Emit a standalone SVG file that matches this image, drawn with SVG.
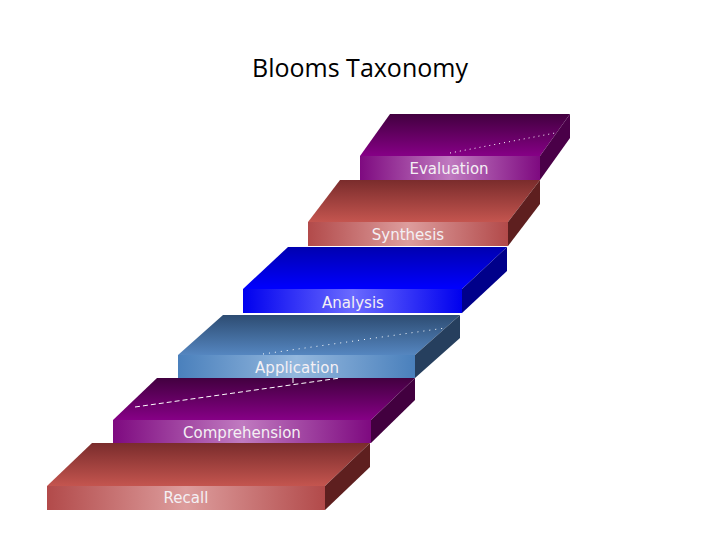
<svg xmlns="http://www.w3.org/2000/svg" width="720" height="540" viewBox="0 0 720 540">
<defs>
<linearGradient id="rf" x1="0" x2="1" y1="0" y2="0"><stop offset="0" stop-color="#b24a4a"/><stop offset="0.5" stop-color="#dd9d9d"/><stop offset="1" stop-color="#b24a4a"/></linearGradient>
<linearGradient id="rt" x1="0" x2="0" y1="0" y2="1"><stop offset="0" stop-color="#7a2c2c"/><stop offset="1" stop-color="#c4554f"/></linearGradient>
<linearGradient id="pf" x1="0" x2="1" y1="0" y2="0"><stop offset="0" stop-color="#7e0a80"/><stop offset="0.5" stop-color="#c07ac0"/><stop offset="1" stop-color="#7e0a80"/></linearGradient>
<linearGradient id="pt" x1="0" x2="0" y1="0" y2="1"><stop offset="0" stop-color="#42003f"/><stop offset="1" stop-color="#860086"/></linearGradient>
<linearGradient id="af" x1="0" x2="1" y1="0" y2="0"><stop offset="0" stop-color="#4a80bc"/><stop offset="0.5" stop-color="#94b8de"/><stop offset="1" stop-color="#4a80bc"/></linearGradient>
<linearGradient id="at" x1="0" x2="0" y1="0" y2="1"><stop offset="0" stop-color="#2d4c72"/><stop offset="1" stop-color="#5586c0"/></linearGradient>
<linearGradient id="bf" x1="0" x2="1" y1="0" y2="0"><stop offset="0" stop-color="#0000ee"/><stop offset="0.5" stop-color="#6a6aff"/><stop offset="1" stop-color="#0000ee"/></linearGradient>
<linearGradient id="bt" x1="0" x2="0" y1="0" y2="1"><stop offset="0" stop-color="#0000b0"/><stop offset="1" stop-color="#0000ff"/></linearGradient>
<style>
.side{opacity:1}
.lbl{font-family:"DejaVu Sans",sans-serif;font-size:15px;fill:#f4f0f4;text-anchor:middle}
</style>
</defs>
<text x="360" y="77" font-family="'Open Sans','Liberation Sans',sans-serif" font-size="25" text-anchor="middle" fill="#000">Blooms Taxonomy</text>

<g id="evaluation">
<polygon points="360,156 540,156 570,114 390,114" fill="url(#pt)"/>
<polygon points="540,156 570,114 570,138 540,180" fill="#4a0048"/>
<rect x="360" y="156" width="180" height="24" fill="url(#pf)"/>
<line x1="450" y1="153" x2="555" y2="133" stroke="#fff" stroke-width="1" stroke-dasharray="1,4"/>
<text class="lbl" x="449" y="174">Evaluation</text>
</g>
<g id="synthesis">
<polygon points="308,222 508,222 540,180 340,180" fill="url(#rt)"/>
<polygon points="508,222 540,180 540,204 508,246" fill="#5e1f1f"/>
<rect x="308" y="222" width="200" height="24" fill="url(#rf)"/>
<text class="lbl" x="408" y="240">Synthesis</text>
</g>
<g id="analysis">
<polygon points="243,289 462,289 507,247 288,247" fill="url(#bt)"/>
<polygon points="462,289 507,247 507,271 462,313" fill="#00008a"/>
<rect x="243" y="289" width="219" height="24" fill="url(#bf)"/>
<text class="lbl" x="353" y="308">Analysis</text>
</g>
<g id="application">
<polygon points="178,355 415,355 460,315 223,315" fill="url(#at)"/>
<polygon points="415,355 460,315 460,338 415,378" fill="#263f5e"/>
<rect x="178" y="355" width="237" height="23" fill="url(#af)"/>
<line x1="263" y1="354" x2="445" y2="328" stroke="#fff" stroke-width="1" stroke-dasharray="1,5"/>
<text class="lbl" x="297" y="373">Application</text>
</g>
<g id="comprehension">
<polygon points="113,420 371,420 415,378 157,378" fill="url(#pt)"/>
<polygon points="371,420 415,378 415,400 371,443" fill="#42003f"/>
<rect x="113" y="420" width="258" height="23" fill="url(#pf)"/>
<path d="M135,407 L340,378 M293,378 L293,385" stroke="#fff" stroke-width="1" stroke-dasharray="5,3" fill="none"/>
<text class="lbl" x="242" y="438">Comprehension</text>
</g>
<g id="recall">
<polygon points="47,486 325,486 370,443 92,443" fill="url(#rt)"/>
<polygon points="325,486 370,443 370,467 325,510" fill="#5e1f1f"/>
<rect x="47" y="486" width="278" height="24" fill="url(#rf)"/>
<text class="lbl" x="186" y="503">Recall</text>
</g>
<g id="connectors"/>
</svg>
